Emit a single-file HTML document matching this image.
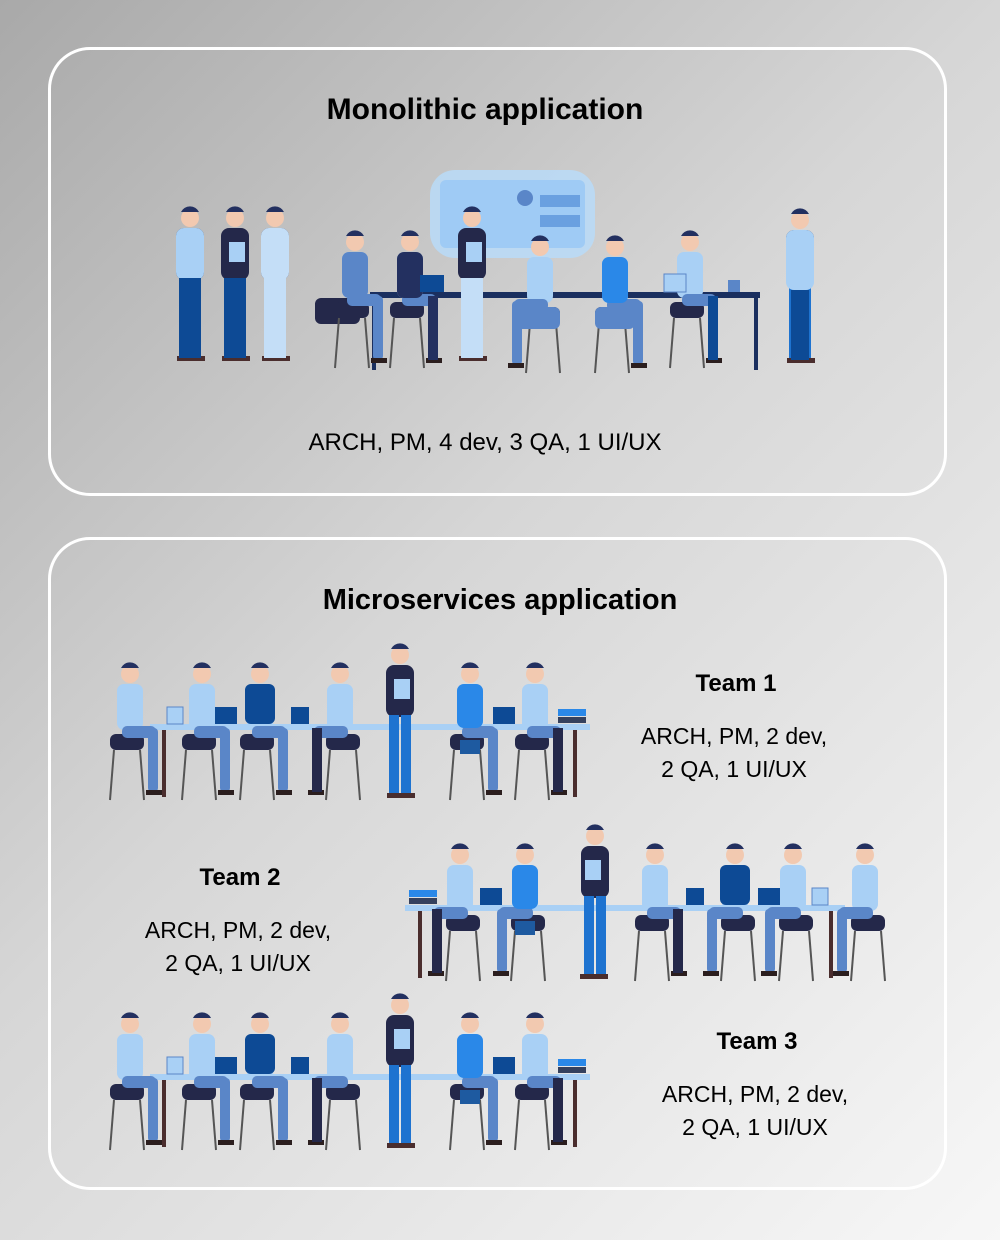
<!DOCTYPE html>
<html><head><meta charset="utf-8"><style>
html,body{margin:0;padding:0}
body{width:1000px;height:1240px;overflow:hidden;background:linear-gradient(135deg,#a9a9a9 0%,#d6d6d6 45%,#f7f7f7 100%);position:relative;font-family:"Liberation Sans","DejaVu Sans",sans-serif;color:#000}
.box{position:absolute;left:48px;width:899px;border:3px solid #fff;border-radius:42px;box-sizing:border-box}
.t{position:absolute;text-align:center;white-space:nowrap}
.h{font-weight:bold;font-size:29px}
.s{font-size:23px;line-height:33px}
.tm{font-weight:bold;font-size:24px}
svg{position:absolute;left:0;top:0}
</style></head><body>
<div class="box" style="top:47px;height:449px"></div>
<div class="box" style="top:537px;height:653px"></div>
<div class="t h" style="left:0;width:970px;top:93px;font-size:30px">Monolithic application</div>
<div class="t s" style="left:0;width:970px;top:426px;font-size:24px">ARCH, PM, 4 dev, 3 QA, 1 UI/UX</div>
<div class="t h" style="left:0;width:1000px;top:584px">Microservices application</div>
<div class="t tm" style="left:636px;width:200px;top:670px">Team 1</div>
<div class="t s" style="left:584px;width:300px;top:720px">ARCH, PM, 2 dev,<br>2 QA, 1 UI/UX</div>
<div class="t tm" style="left:140px;width:200px;top:864px">Team 2</div>
<div class="t s" style="left:88px;width:300px;top:914px">ARCH, PM, 2 dev,<br>2 QA, 1 UI/UX</div>
<div class="t tm" style="left:657px;width:200px;top:1028px">Team 3</div>
<div class="t s" style="left:605px;width:300px;top:1078px">ARCH, PM, 2 dev,<br>2 QA, 1 UI/UX</div>
<svg width="1000" height="1240" viewBox="0 0 1000 1240">
<defs>
<g id="sit">
<rect x="-20" y="2" width="34" height="16" rx="6" fill="#24284a"/>
<line x1="-16" y1="18" x2="-20" y2="68" stroke="#555" stroke-width="2"/>
<line x1="10" y1="18" x2="14" y2="68" stroke="#555" stroke-width="2"/>
<circle cx="0" cy="-58" r="9" fill="#f2c9b0"/>
<path d="M-9 -64 a10 10 0 0 1 18 0 z" fill="#233060"/>
<rect x="-13" y="-48" width="26" height="46" rx="7" fill="#a9d0f5"/>
<rect x="-8" y="-6" width="34" height="12" rx="5" fill="#5a86c8"/>
<rect x="18" y="-4" width="10" height="64" rx="4" fill="#5a86c8"/>
<rect x="16" y="58" width="16" height="5" fill="#2b1e1e"/>
</g>
<g id="stand">
<circle cx="0" cy="-72" r="9" fill="#f2c9b0"/>
<path d="M-9 -78 a10 10 0 0 1 18 0 z" fill="#233060"/>
<rect x="-14" y="-62" width="28" height="52" rx="8" fill="#24284a"/>
<rect x="-11" y="-12" width="10" height="80" fill="#1e73d0"/>
<rect x="1" y="-12" width="10" height="80" fill="#1e73d0"/>
<rect x="-13" y="66" width="28" height="5" fill="#4a2d2d"/>
<rect x="-6" y="-48" width="16" height="20" fill="#a9d0f5"/>
</g>
<g id="team">
<rect x="50" y="-3" width="440" height="6" fill="#a9d0f5"/>
<rect x="62" y="3" width="4" height="67" fill="#4a2d2d"/>
<rect x="473" y="3" width="4" height="67" fill="#4a2d2d"/>
<rect x="67" y="-20" width="16" height="17" fill="#a9d0f5" stroke="#5a86c8"/>
<rect x="115" y="-20" width="22" height="17" fill="#0d4a95"/>
<rect x="191" y="-20" width="18" height="17" fill="#0d4a95"/>
<rect x="393" y="-20" width="22" height="17" fill="#0d4a95"/>
<rect x="458" y="-18" width="28" height="7" fill="#2a88e8"/>
<rect x="458" y="-10" width="28" height="6" fill="#35415e"/>
<use href="#sit" x="30" y="5"/>
<use href="#sit" x="102" y="5"/>
<g transform="translate(160,5)"><use href="#sit"/><rect x="-15" y="-48" width="30" height="40" rx="6" fill="#0d4a95"/></g>
<g transform="translate(240,5) scale(-1,1)"><use href="#sit"/><rect x="18" y="-4" width="10" height="64" fill="#24284a"/></g>
<use href="#stand" x="300" y="0"/>
<g transform="translate(370,5)"><use href="#sit"/><rect x="-13" y="-48" width="26" height="44" rx="7" fill="#2a88e8"/><rect x="-10" y="8" width="20" height="14" fill="#1e5aa0"/></g>
<g transform="translate(435,5)"><use href="#sit"/><rect x="18" y="-4" width="10" height="64" fill="#24284a"/></g>
</g>
</defs>
<rect x="430" y="170" width="165" height="88" rx="25" fill="#b8dcfb" opacity="0.8"/>
<rect x="440" y="180" width="145" height="68" rx="6" fill="#9fcbf5"/>
<circle cx="525" cy="198" r="8" fill="#5a86c8"/>
<rect x="540" y="195" width="40" height="12" fill="#6aa0e0"/>
<rect x="540" y="215" width="40" height="12" fill="#6aa0e0"/>
<rect x="370" y="292" width="390" height="6" fill="#1a2f5f"/>
<rect x="372" y="298" width="4" height="72" fill="#1a2f5f"/>
<rect x="754" y="298" width="4" height="72" fill="#1a2f5f"/>
<g transform="translate(190,290)"><use href="#stand"/><rect x="-14" y="-62" width="28" height="52" rx="8" fill="#a9d0f5"/><rect x="-11" y="-12" width="22" height="80" fill="#0d4a95"/></g>
<g transform="translate(235,290)"><use href="#stand"/><rect x="-11" y="-12" width="22" height="80" fill="#0d4a95"/></g>
<g transform="translate(275,290)"><use href="#stand"/><rect x="-14" y="-62" width="28" height="52" rx="8" fill="#c4def7"/><rect x="-11" y="-12" width="22" height="80" fill="#c4def7"/></g>
<rect x="315" y="298" width="45" height="26" rx="6" fill="#24284a"/>
<g transform="translate(355,300)"><use href="#sit"/><rect x="-13" y="-48" width="26" height="46" rx="7" fill="#5a86c8"/></g>
<g transform="translate(410,300)"><use href="#sit"/><rect x="-13" y="-48" width="26" height="46" rx="7" fill="#233060"/><rect x="18" y="-4" width="10" height="64" fill="#233060"/></g>
<rect x="420" y="275" width="24" height="17" fill="#0d4a95"/>
<g transform="translate(472,290)"><use href="#stand"/><rect x="-11" y="-12" width="22" height="80" fill="#c4def7"/></g>
<g transform="translate(540,305) scale(-1,1)"><use href="#sit"/><rect x="-20" y="2" width="44" height="22" rx="6" fill="#5a86c8"/></g>
<g transform="translate(615,305)"><use href="#sit"/><rect x="-13" y="-48" width="26" height="46" rx="7" fill="#2a88e8"/><rect x="-20" y="2" width="40" height="22" rx="6" fill="#5a86c8"/></g>
<g transform="translate(690,300)"><use href="#sit"/><rect x="18" y="-4" width="10" height="64" fill="#0d4a95"/></g>
<rect x="664" y="274" width="22" height="18" fill="#a9d0f5" stroke="#5a86c8"/>
<rect x="728" y="280" width="12" height="12" fill="#5a86c8"/>
<g transform="translate(800,292)"><use href="#stand"/><rect x="-14" y="-62" width="28" height="60" rx="8" fill="#a9d0f5"/><rect x="-9" y="-2" width="18" height="70" fill="#0d4a95"/></g>
<use href="#team" x="100" y="727"/>
<g transform="translate(895,908) scale(-1,1)"><use href="#team"/></g>
<use href="#team" x="100" y="1077"/>
</svg>
</body></html>
